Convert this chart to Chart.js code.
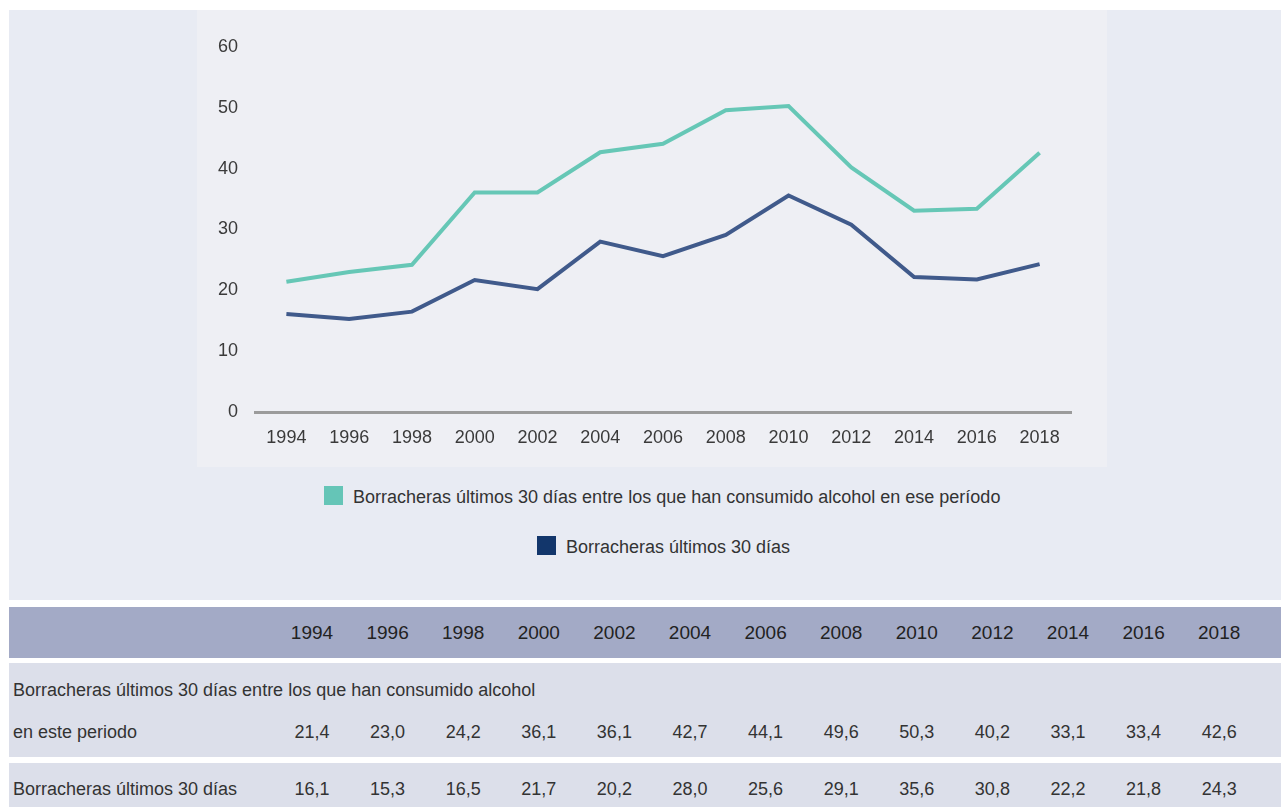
<!DOCTYPE html>
<html>
<head>
<meta charset="utf-8">
<script src="https://cdn.jsdelivr.net/npm/chart.js@4"></script>
<style>
  body { margin: 0; background: #fff; font-family: "Liberation Sans", Arial, Helvetica, sans-serif; }
  #page { position: relative; width: 1281px; height: 807px; overflow: hidden; }
  #panel { position: absolute; left: 9px; top: 10px; width: 1272px; height: 590px; background: #e8ebf3; }
  #plotbox { position: absolute; left: 197px; top: 10px; width: 910px; height: 457px; background: #eeeff4; }
  .leg { position: absolute; font-size: 18px; color: #333; white-space: nowrap; line-height: 20px; }
  .leg span.sw { position: absolute; left: 0; top: 0; width: 19px; height: 19px; }
  .leg span.tx { position: absolute; left: 29px; top: 1px; }
  .band { position: absolute; left: 9px; width: 1272px; }
  .cell { position: absolute; text-align: center; width: 76px; font-size: 18px; color: #333; }
  .lbl { position: absolute; left: 13px; font-size: 18px; color: #333; white-space: nowrap; }
</style>
</head>
<body>
<div id="page">
  <div id="panel"></div>
  <div id="plotbox"><canvas id="myChart"></canvas></div>
  <div class="leg" id="leg1" style="left:324px; top:486px;"><span class="sw" style="background:#65c5b7"></span><span class="tx"></span></div>
  <div class="leg" id="leg2" style="left:537px; top:536px;"><span class="sw" style="background:#12366b"></span><span class="tx"></span></div>
  <div class="band" style="top:607px; height:51px; background:#a3aac6;"></div>
  <div class="band" style="top:663px; height:94px; background:#dcdfea;"></div>
  <div class="band" style="top:763px; height:44px; background:#dcdfea;"></div>
  <div id="tabla"></div>
</div>
<script>
const anios = ['1994','1996','1998','2000','2002','2004','2006','2008','2010','2012','2014','2016','2018'];
const consumidores = [21.4, 23.0, 24.2, 36.1, 36.1, 42.7, 44.1, 49.6, 50.3, 40.2, 33.1, 33.4, 42.6];
const total = [16.1, 15.3, 16.5, 21.7, 20.2, 28.0, 25.6, 29.1, 35.6, 30.8, 22.2, 21.8, 24.3];
const nombre1 = 'Borracheras últimos 30 días entre los que han consumido alcohol en ese período';
const nombre2 = 'Borracheras últimos 30 días';
const filaLinea1 = 'Borracheras últimos 30 días entre los que han consumido alcohol';
const filaLinea2 = 'en este periodo';

document.querySelector('#leg1 .tx').textContent = nombre1;
document.querySelector('#leg2 .tx').textContent = nombre2;

// tabla de abajo
const tabla = document.getElementById('tabla');
function celda(texto, x, y, cls, extra) {
  const d = document.createElement('div');
  d.className = cls;
  d.textContent = texto;
  d.style.left = x + 'px';
  d.style.top = y + 'px';
  if (extra) d.style.cssText += extra;
  tabla.appendChild(d);
}
for (let i = 0; i < anios.length; i++) {
  const cx = 312 + 75.6 * i - 38;
  celda(anios[i], cx, 622, 'cell', 'font-size:19px;color:#222;');
  celda(consumidores[i].toFixed(1).replace('.', ','), cx, 722, 'cell');
  celda(total[i].toFixed(1).replace('.', ','), cx, 779, 'cell');
}
celda(filaLinea1, 13, 680, 'lbl');
celda(filaLinea2, 13, 722, 'lbl');
celda(nombre2, 13, 779, 'lbl');

const ctx = document.getElementById('myChart').getContext('2d');
const myChart = new Chart(ctx, {
  type: 'line',
  data: {
    labels: anios,
    datasets: [{
      label: nombre1,
      data: consumidores,
      borderColor: '#66c7b6',
      backgroundColor: '#65c5b7',
      borderWidth: 4,
      pointRadius: 0,
      tension: 0
    }, {
      label: nombre2,
      data: total,
      borderColor: '#405a8b',
      backgroundColor: '#12366b',
      borderWidth: 4,
      pointRadius: 0,
      tension: 0
    }]
  },
  options: {
    responsive: true,
    maintainAspectRatio: false,
    animation: false,
    layout: { padding: { top: 37, right: 36, left: 0, bottom: 0 } },
    plugins: { legend: { display: false }, tooltip: { enabled: false } },
    scales: {
      x: {
        offset: true,
        grid: { display: false, drawTicks: false },
        border: { display: true, color: '#9b9b9b', width: 3 },
        ticks: { color: '#3a3a3a', font: { size: 18, family: '"Liberation Sans", Arial' }, padding: 15, maxRotation: 0 },
        afterFit: function (scale) { scale.height = 55; }
      },
      y: {
        min: 0,
        max: 60,
        grid: { display: false, drawTicks: false },
        border: { display: false },
        ticks: { stepSize: 10, color: '#3a3a3a', font: { size: 18, family: '"Liberation Sans", Arial' }, padding: 17 },
        afterFit: function (scale) { scale.width = 58; }
      }
    }
  }
});
</script>
</body>
</html>
